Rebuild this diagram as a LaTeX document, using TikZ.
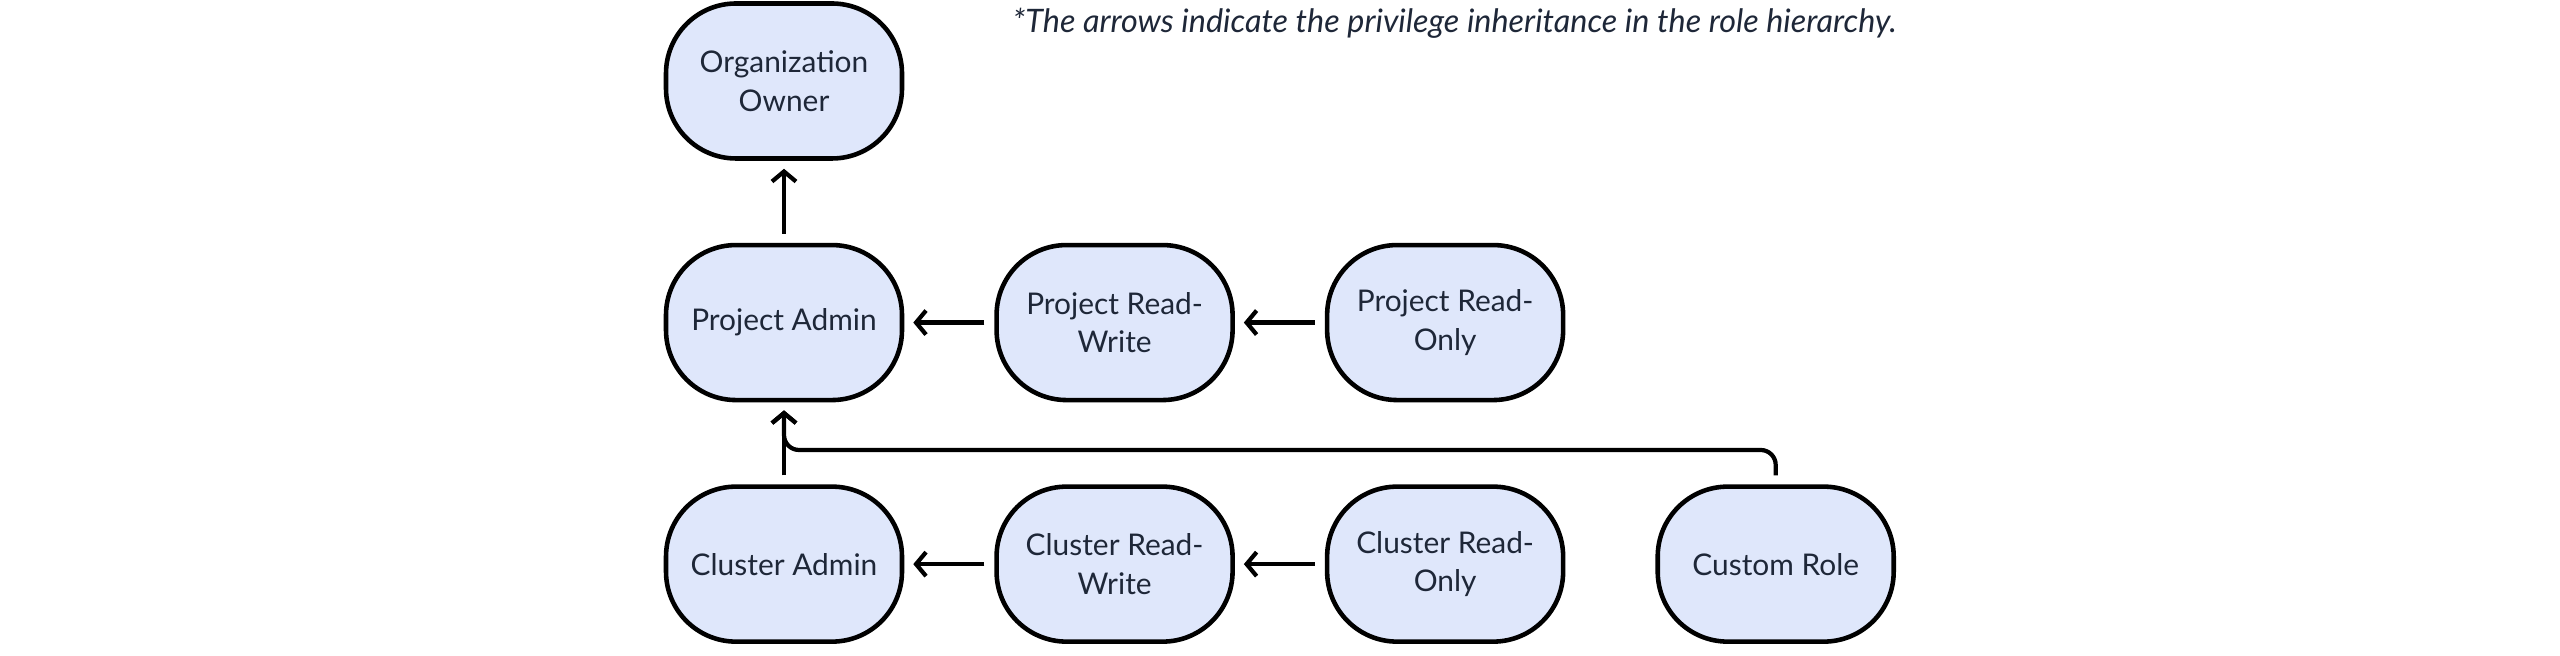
\documentclass[tikz,border=0pt]{standalone}
\usepackage{fontspec}
\setmainfont{Lato}
\usepackage{tikz}
\usetikzlibrary{arrows.meta,positioning,calc}
\definecolor{ink}{HTML}{1E2738}
\definecolor{rolefill}{HTML}{DFE7FB}
\tikzset{
  rolebox/.style={rectangle,rounded corners=0.7cm,draw=black,line width=1.3pt,
    fill=rolefill,text=ink,align=center,font=\fontsize{8.5}{11}\selectfont,
    minimum width=2.36cm,minimum height=1.55cm,inner sep=2pt},
  rolearr/.style={-{Straight Barb[length=1mm,width=2.4mm]},line width=1.2pt,color=black},
  notelabel/.style={font=\fontsize{9.2}{11}\selectfont\itshape,text=ink,anchor=west,inner sep=0pt},
}

\begin{document}
\begin{tikzpicture}[node distance=0.82cm and 0.90cm]
  \useasboundingbox (0,0) rectangle (25.6,6.56);
  \node[rolebox] (org) at (7.84,5.75) {Organization\\Owner};
  \node[rolebox,below=of org] (padmin) {Project Admin};
  \node[rolebox,right=of padmin] (prw) {Project Read-\\Write};
  \node[rolebox,right=of prw] (pro) {Project Read-\\Only};
  \node[rolebox,below=of padmin] (cadmin) {Cluster Admin};
  \node[rolebox,right=of cadmin] (crw) {Cluster Read-\\Write};
  \node[rolebox,right=of crw] (cro) {Cluster Read-\\Only};
  \node[rolebox,right=of cro] (custom) {Custom Role};
  \node[notelabel] (note) at (10.12,6.33) {*The arrows indicate the privilege inheritance in the role hierarchy.};
  \coordinate (join) at (7.84,2.06);

  \draw[rolearr] ([yshift=0.09cm]padmin.north) -- ([yshift=-0.08cm]org.south);
  \draw[rolearr] ([xshift=-0.1cm]prw.west) -- ([xshift=0.09cm]padmin.east);
  \draw[rolearr] ([xshift=-0.1cm]pro.west) -- ([xshift=0.09cm]prw.east);
  \draw[rolearr] ([xshift=-0.1cm]crw.west) -- ([xshift=0.09cm]cadmin.east);
  \draw[rolearr] ([xshift=-0.1cm]cro.west) -- ([xshift=0.09cm]crw.east);
  \draw[rolearr] ([yshift=0.09cm]cadmin.north) -- ([yshift=-0.08cm]padmin.south);
  \draw[rolearr,rounded corners=0.15cm] ([yshift=0.09cm]custom.north) |- (join)
    -- ([yshift=-0.08cm]padmin.south);
\end{tikzpicture}
\end{document}
